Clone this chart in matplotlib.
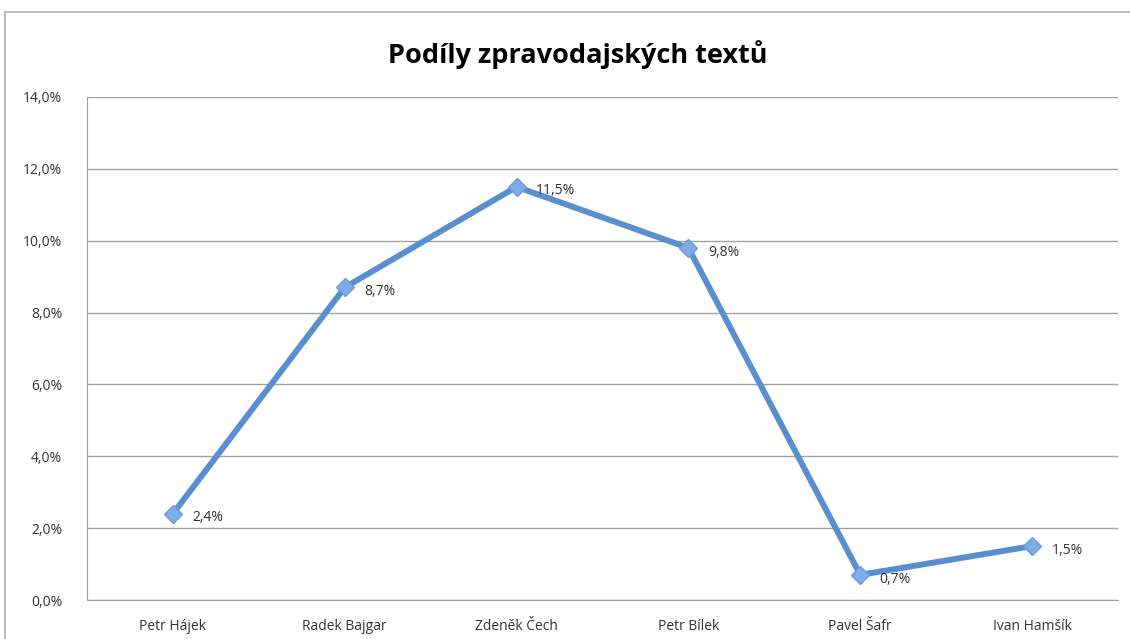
import matplotlib
matplotlib.use("Agg")
from matplotlib import pyplot
from matplotlib.patches import Rectangle
from matplotlib.ticker import FuncFormatter

names = ["Petr Hájek", "Radek Bajgar", "Zdeněk Čech", "Petr Bílek", "Pavel Šafr", "Ivan Hamšík"]
shares = [2.4, 8.7, 11.5, 9.8, 0.7, 1.5]
yticks = [0, 2, 4, 6, 8, 10, 12, 14]

pyplot.rcParams['font.family'] = ['Open Sans', 'DejaVu Sans']

fig = pyplot.figure(figsize=(11.3, 6.39), dpi=100)
fig.patches.append(Rectangle((5 / 1130, -0.1), 1.2, 1.1 - 12 / 639, transform=fig.transFigure,
                             fill=False, edgecolor='#bdbdbd', linewidth=1.5))

ax = fig.add_axes([87 / 1130, 39 / 639, 1031 / 1130, 503 / 639])
x = list(range(len(names)))
ax.plot(x, shares, color='#5a8fcf', linewidth=4.3, marker='D', markersize=9,
        markerfacecolor='#7dace6', markeredgecolor='#6a9ddc', markeredgewidth=1, zorder=3)
for xi, v in zip(x, shares):
    ax.annotate(f"{v:.1f}%".replace('.', ','), (xi, v), xytext=(14, -3), textcoords='offset points',
                fontsize=10, color='#333333', va='center', ha='left')

ax.set_xlim(-0.5, len(names) - 0.5)
ax.set_ylim(0, 14)
ax.set_yticks(yticks)
ax.yaxis.set_major_formatter(FuncFormatter(lambda v, p: f"{v:.1f}%".replace('.', ',')))
ax.set_xticks(x)
ax.set_xticklabels(names)
ax.tick_params(axis='both', length=0, labelsize=10, colors='#333333')
ax.tick_params(axis='y', pad=18)
ax.tick_params(axis='x', pad=14)
ax.grid(axis='y', color='#a0a0a0', linewidth=1)
ax.set_axisbelow(True)
for s in ['top', 'right']:
    ax.spines[s].set_visible(False)
ax.spines['left'].set_color('#a0a0a0')
ax.spines['bottom'].set_color('#a0a0a0')

fig.text(578 / 1130, 1 - 55 / 639, "Podíly zpravodajských textů", ha='center', va='center',
         fontsize=19.5, fontweight='bold')

fig.savefig('out.png', dpi=100)
